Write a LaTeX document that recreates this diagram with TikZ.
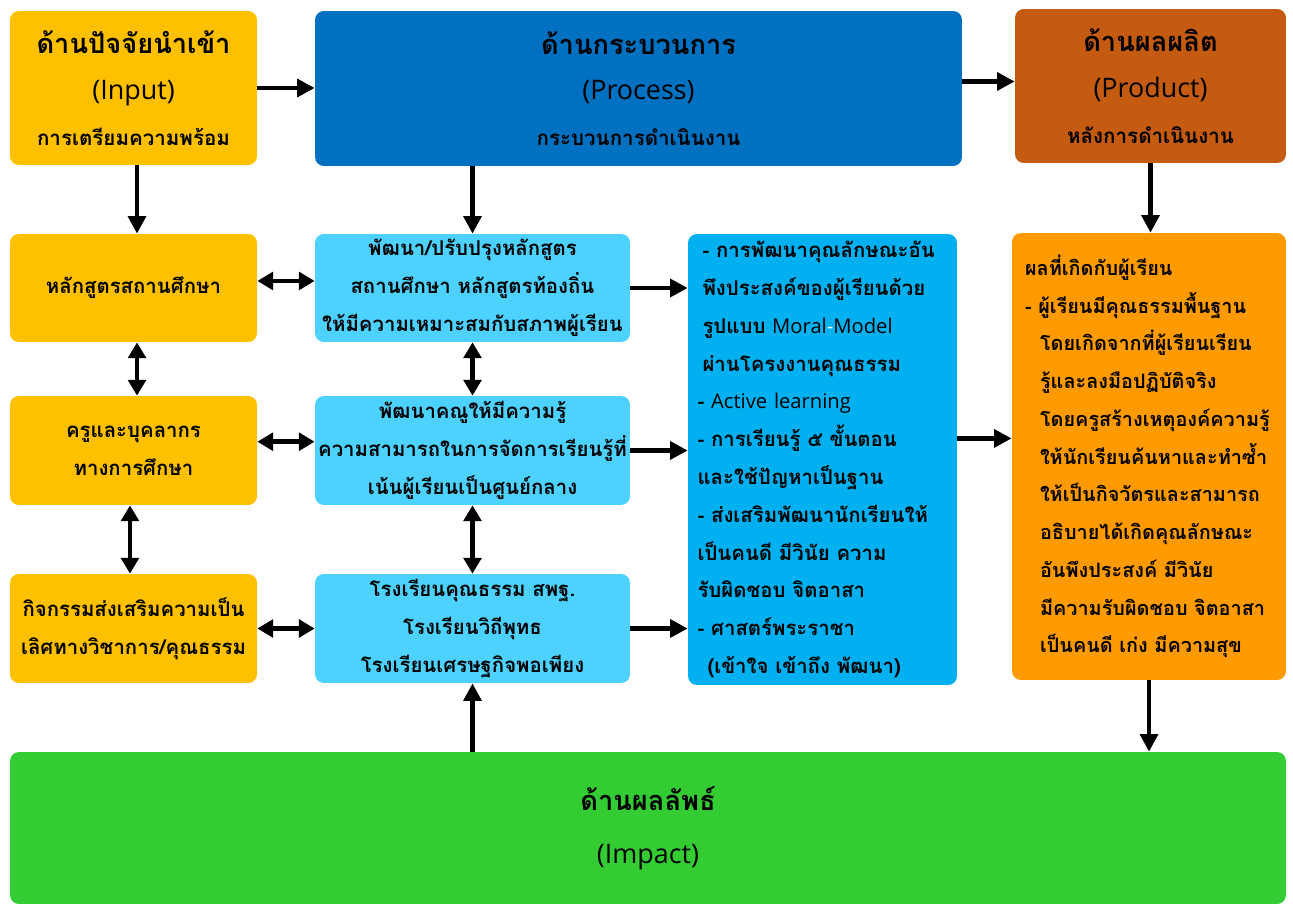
\documentclass[tikz,border=0pt]{standalone}
\usepackage{fontspec}
\newfontfamily\thaifont[Script=Thai]{Loma}
\newfontfamily\latin{Open Sans}
\usetikzlibrary{arrows.meta}
\definecolor{inyellow}{HTML}{FFC000}
\definecolor{procblue}{HTML}{0070C0}
\definecolor{prodbrown}{HTML}{C55A11}
\definecolor{devblue}{HTML}{4DD2FF}
\definecolor{methblue}{HTML}{00B0F0}
\definecolor{resorange}{HTML}{FF9A00}
\definecolor{impgreen}{HTML}{33CC33}
\newcommand{\lat}[1]{{\latin\mdseries\fontsize{11.5}{21.5}\selectfont #1}}
\newcommand{\biglat}[1]{{\latin\mdseries\fontsize{15.3}{26}\selectfont #1}}
\newcommand{\subline}[1]{{\fontsize{11.7}{21.5}\selectfont #1}}

\begin{document}
\begin{tikzpicture}[x=0.02cm,y=-0.02cm,
    box/.style={rounded corners=5pt,inner sep=0pt,align=center,
      font=\thaifont\bfseries\fontsize{11.6}{21.5}\selectfont},
    head/.style={box,font=\thaifont\bfseries\fontsize{15.5}{26}\selectfont},
    big/.style={line width=2.8pt,-{Triangle[length=10pt,width=10pt]}},
    both/.style={line width=2.8pt,{Triangle[length=9pt,width=10pt]}-{Triangle[length=9pt,width=10pt]}}]
  \useasboundingbox (0,0) rectangle (1293,905);

  % top row
  \node[head,fill=inyellow,minimum width=4.94cm,minimum height=3.08cm] (inp) at (133.5,88)
    {ด้านปัจจัยนำเข้า\\\biglat{(Input)}\\\subline{การเตรียมความพร้อม}};
  \node[head,fill=procblue,minimum width=12.94cm,minimum height=3.1cm] (proc) at (638.5,88.5)
    {ด้านกระบวนการ\\\biglat{(Process)}\\\subline{กระบวนการดำเนินงาน}};
  \node[head,fill=prodbrown,minimum width=5.42cm,minimum height=3.08cm] (prod) at (1150.5,86)
    {ด้านผลผลิต\\\biglat{(Product)}\\\subline{หลังการดำเนินงาน}};

  % left column
  \node[box,fill=inyellow,minimum width=4.94cm,minimum height=2.16cm] (cur) at (133.5,288)
    {หลักสูตรสถานศึกษา};
  \node[box,fill=inyellow,minimum width=4.94cm,minimum height=2.18cm] (tch) at (133.5,450.5)
    {ครูและบุคลากร\\ทางการศึกษา};
  \node[box,fill=inyellow,minimum width=4.94cm,minimum height=2.18cm] (act) at (133.5,628.5)
    {กิจกรรมส่งเสริมความเป็น\\เลิศทางวิชาการ/คุณธรรม};

  % middle column
  \node[box,fill=devblue,minimum width=6.3cm,minimum height=2.16cm] (dev1) at (472.5,288)
    {พัฒนา/ปรับปรุงหลักสูตร\\สถานศึกษา หลักสูตรท้องถิ่น\\ให้มีความเหมาะสมกับสภาพผู้เรียน};
  \node[box,fill=devblue,minimum width=6.3cm,minimum height=2.18cm] (dev2) at (472.5,450.5)
    {พัฒนาคณูให้มีความรู้\\ความสามารถในการจัดการเรียนรู้ที่\\เน้นผู้เรียนเป็นศูนย์กลาง};
  \node[box,fill=devblue,minimum width=6.3cm,minimum height=2.18cm] (dev3) at (472.5,628.5)
    {โรงเรียนคุณธรรม สพฐ.\\โรงเรียนวิถีพุทธ\\โรงเรียนเศรษฐกิจพอเพียง};

  % method and result
  \node[box,fill=methblue,align=left,text width=5.0cm,inner xsep=0.19cm,minimum height=9.02cm] (meth) at (822.5,459.5)
    {\hspace*{0.1cm}- การพัฒนาคุณลักษณะอัน\\
     \hspace*{0.1cm}พึงประสงค์ของผู้เรียนด้วย\\
     \hspace*{0.1cm}รูปแบบ \lat{Moral\textcolor{white}{-}Model}\\
     \hspace*{0.1cm}ผ่านโครงงานคุณธรรม\\
     - \lat{Active learning}\\
     - การเรียนรู้ ๕ ขั้นตอน\\
     และใช้ปัญหาเป็นฐาน\\
     - ส่งเสริมพัฒนานักเรียนให้\\
     เป็นคนดี มีวินัย ความ\\
     รับผิดชอบ จิตอาสา\\
     - ศาสตร์พระราชา\\
     \hspace*{0.2cm}(เข้าใจ เข้าถึง พัฒนา)};
  \node[box,fill=resorange,align=left,text width=4.96cm,inner xsep=0.26cm,minimum height=8.94cm,
      font=\thaifont\bfseries\fontsize{11.3}{21.5}\selectfont] (res) at (1149,456.5)
    {ผลที่เกิดกับผู้เรียน\\
     - ผู้เรียนมีคุณธรรมพื้นฐาน\\
     \hspace*{0.3cm}โดยเกิดจากที่ผู้เรียนเรียน\\
     \hspace*{0.3cm}รู้และลงมือปฏิบัติจริง\\
     \hspace*{0.3cm}โดยครูสร้างเหตุองค์ความรู้\\
     \hspace*{0.3cm}ให้นักเรียนค้นหาและทำซ้ำ\\
     \hspace*{0.3cm}ให้เป็นกิจวัตรและสามารถ\\
     \hspace*{0.3cm}อธิบายได้เกิดคุณลักษณะ\\
     \hspace*{0.3cm}อันพึงประสงค์ มีวินัย\\
     \hspace*{0.3cm}มีความรับผิดชอบ จิตอาสา\\
     \hspace*{0.3cm}เป็นคนดี เก่ง มีความสุข};

  % bottom
  \node[head,fill=impgreen,minimum width=25.52cm,minimum height=3.04cm] (imp) at (648,828)
    {ด้านผลลัพธ์\\[4pt]\biglat{(Impact)}};

  % arrows
  \draw[big] (inp.east) -- (inp.east -| proc.west);
  \draw[big] ([yshift=4pt]proc.east) -- ([yshift=4pt]proc.east -| prod.west);
  \draw[big] ([xshift=2pt]inp.south) -- ([xshift=2pt]cur.north);
  \draw[big] (dev1.north |- proc.south) -- (dev1.north);
  \draw[big] (prod.south) -- (prod.south |- res.north);
  \draw[both] ([xshift=2pt]cur.south) -- ([xshift=2pt]tch.north);
  \draw[both] ([xshift=-2pt]tch.south) -- ([xshift=-2pt]act.north);
  \draw[both] ([yshift=4pt]cur.east) -- ([yshift=4pt]cur.east -| dev1.west);
  \draw[both] ([yshift=5pt]tch.east) -- ([yshift=5pt]tch.east -| dev2.west);
  \draw[both] (act.east) -- (dev3.west);
  \draw[both] (dev1.south) -- (dev2.north);
  \draw[both] (dev2.south) -- (dev3.north);
  \draw[big] (dev1.east) -- (dev1.east -| meth.west);
  \draw[big] (dev2.east) -- (dev2.east -| meth.west);
  \draw[big] (dev3.east) -- (dev3.east -| meth.west);
  \draw[big] ([yshift=12pt]meth.east) -- ([yshift=12pt]meth.east -| res.west);
  \draw[big] (dev3.south |- imp.north) -- (dev3.south);
  \draw[big] (res.south) -- (res.south |- imp.north);
\end{tikzpicture}
\end{document}
